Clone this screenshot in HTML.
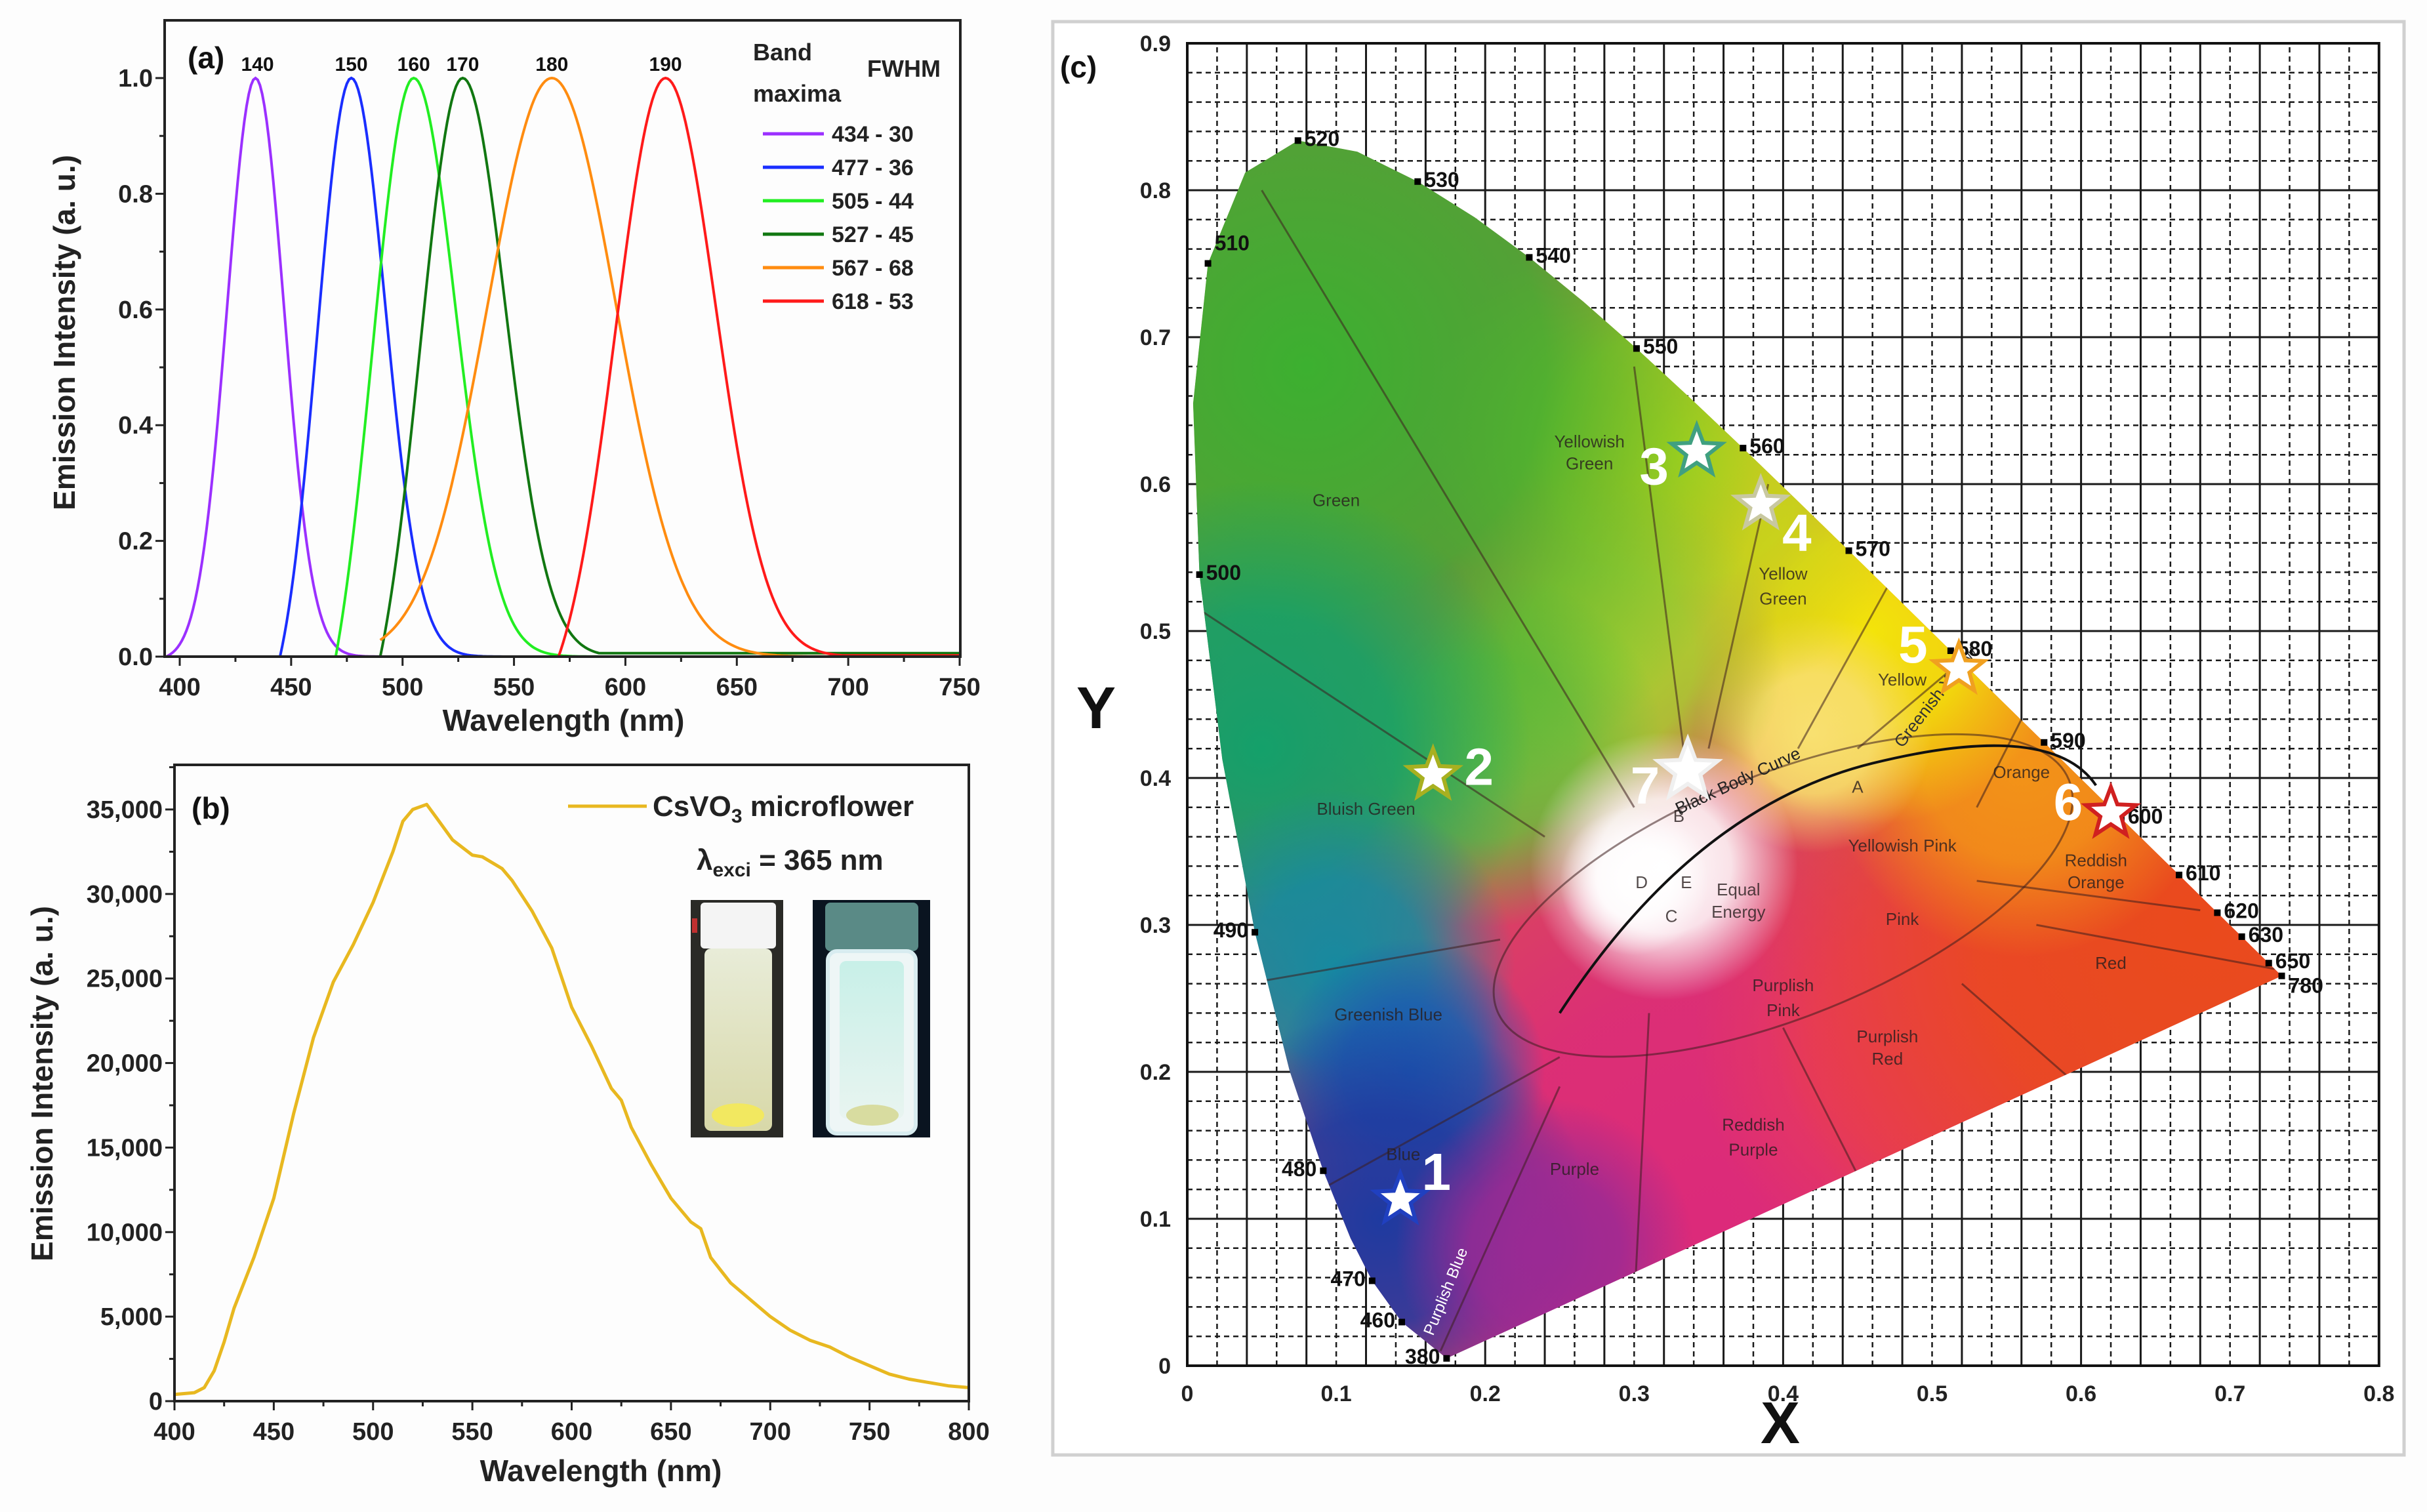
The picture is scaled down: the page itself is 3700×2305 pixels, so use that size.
<!DOCTYPE html>
<html><head><meta charset="utf-8">
<style>
html,body{margin:0;padding:0;background:#fdfdfd;overflow:hidden;width:3700px;height:2305px;}
svg{display:block;font-family:"Liberation Sans",Arial,sans-serif;}
</style></head>
<body>
<svg id="fig" width="3700" height="2305" viewBox="0 0 3700 2305" xmlns="http://www.w3.org/2000/svg">
<defs>
<clipPath id="clipA"><rect x="251" y="31" width="1213" height="970"/></clipPath>
<clipPath id="clipB"><rect x="266" y="1166" width="1211" height="970"/></clipPath>
<clipPath id="locusClip"><path id="locusClipPath" d=""/></clipPath>
<linearGradient id="vial1g" x1="0" y1="0" x2="0" y2="1"><stop offset="0" stop-color="#e8ecd8"/><stop offset="1" stop-color="#d8d8a8"/></linearGradient>
<linearGradient id="vial2g" x1="0" y1="0" x2="0" y2="1"><stop offset="0" stop-color="#c8f0e8"/><stop offset="1" stop-color="#e8f4f0"/></linearGradient>
</defs>
<rect x="0" y="0" width="3700" height="2305" fill="#fdfdfd"/>
<g id="panelA"></g>
<g id="panelB"></g>
<g id="panelC"></g>
</svg>
<script>
// ---------- Panel (a) data ----------
const aPeaks = [434, 477, 505, 527, 567, 618];
const aFwhm = [30, 36, 44, 45, 68, 53];
const aStart = [394, 445, 470, 490, 490, 570];
const aZeroStart = [1, 1, 1, 1, 0, 1];
const aTail = [0, 0, 0, 0.006, 0, 0.002];
const aColors = ["#9b30ff", "#1a2eff", "#22ee22", "#117711", "#ff8c10", "#ff1a1a"];
const aPeakLabels = ["140", "150", "160", "170", "180", "190"];
const aXTicks = [400, 450, 500, 550, 600, 650, 700, 750];
const aYTicks = [0.0, 0.2, 0.4, 0.6, 0.8, 1.0];
// ---------- Panel (b) data ----------
const bWave = [400,410,415,420,425,430,440,450,460,470,480,490,500,510,515,520,527,532,540,550,555,565,570,580,590,600,610,620,625,630,640,650,660,665,670,680,690,700,710,720,730,740,750,760,770,780,790,800];
const bInt = [400,500,800,1800,3500,5500,8500,12000,17000,21500,24800,27000,29500,32500,34300,35000,35300,34500,33200,32300,32200,31500,30800,29000,26800,23300,21000,18500,17800,16200,14000,12000,10600,10200,8500,7000,6000,5000,4200,3600,3200,2600,2100,1600,1300,1100,900,800];
const bXTicks = [400,450,500,550,600,650,700,750,800];
const bYTicks = [0,5000,10000,15000,20000,25000,30000,35000];
// ---------- Panel (c) data ----------
const locusNm = [380,460,470,475,480,485,490,495,500,505,510,515,520,525,530,535,540,545,550,555,560,565,570,575,580,585,590,595,600,610,620,630,650,700];
const locusX = [0.1741,0.1440,0.1241,0.1096,0.0913,0.0687,0.0454,0.0235,0.0082,0.0039,0.0139,0.0389,0.0743,0.1142,0.1547,0.1929,0.2296,0.2658,0.3016,0.3373,0.3731,0.4087,0.4441,0.4788,0.5125,0.5448,0.5752,0.6029,0.6270,0.6658,0.6915,0.7079,0.7260,0.7347];
const locusY = [0.0050,0.0297,0.0578,0.0868,0.1327,0.2007,0.2950,0.4127,0.5384,0.6548,0.7502,0.8120,0.8338,0.8262,0.8059,0.7816,0.7543,0.7243,0.6923,0.6589,0.6245,0.5896,0.5547,0.5202,0.4866,0.4544,0.4242,0.3965,0.3725,0.3340,0.3083,0.2920,0.2740,0.2653];
const labelNm = [380,460,470,480,490,500,510,520,530,540,550,560,570,580,590,600,610,620,630,650,780];
const starNames = ["1","2","3","4","5","6","7"];
const starX = [0.143,0.165,0.342,0.385,0.518,0.620,0.336];
const starY = [0.113,0.402,0.622,0.586,0.474,0.376,0.405];
const cXTicks = [0,0.1,0.2,0.3,0.4,0.5,0.6,0.7,0.8];
const cYTicks = [0,0.1,0.2,0.3,0.4,0.5,0.6,0.7,0.8,0.9];

const NS = "http://www.w3.org/2000/svg";
function mk(parent, tag, attrs, text) {
  const e = document.createElementNS(NS, tag);
  for (const k in attrs) e.setAttribute(k, attrs[k]);
  if (text !== undefined) e.textContent = text;
  parent.appendChild(e);
  return e;
}

// ================= PANEL A =================
(function(){
  const g = document.getElementById('panelA');
  const X0 = 251, X1 = 1464, Y0 = 1001, Y1 = 31;
  const xs = w => 274 + (w - 400) * (1463 - 274) / 350;
  const ys = v => 1001 - v * 882;
  const cg = mk(g, 'g', {'clip-path': 'url(#clipA)'});
  for (let i = 0; i < aPeaks.length; i++) {
    const s = aFwhm[i] / 2.3548;
    const gauss = w => Math.exp(-Math.pow(w - aPeaks[i], 2) / (2 * s * s));
    const v0 = aZeroStart[i] ? gauss(aStart[i]) : 0;
    let d = '';
    for (let w = aStart[i]; w <= 750; w += 1) {
      let v = gauss(w);
      if (w <= aPeaks[i]) v = (v - v0) / (1 - v0);
      else v = Math.max(v, aTail[i]);
      d += (d ? 'L' : 'M') + xs(w).toFixed(1) + ',' + ys(v).toFixed(1);
    }
    const p = mk(cg, 'path', {d: d, fill: 'none', stroke: aColors[i], 'stroke-width': 4});
    
    
    const t = mk(g, 'text', {x: xs(aPeaks[i]) + (i === 0 ? 3 : 0), y: 108, 'font-size': 30, 'font-weight': 'bold', 'text-anchor': 'middle', fill: '#111'}, aPeakLabels[i]);
    
    
  }
  const fr = mk(g, 'rect', {x: X0, y: Y1, width: X1 - X0, height: Y0 - Y1, fill: 'none', stroke: '#222', 'stroke-width': 4});
  
  
  for (let w = 400; w <= 750; w += 25) {
    mk(g, 'line', {x1: xs(w), x2: xs(w), y1: Y0, y2: Y0 + (w % 50 === 0 ? 14 : 8), stroke: '#222', 'stroke-width': 3});
  }
  aXTicks.forEach(w => {
    const t = mk(g, 'text', {x: xs(w), y: 1060, 'font-size': 38, 'font-weight': 'bold', 'text-anchor': 'middle', fill: '#222'}, String(w));
    
    
  });
  for (let v = 0; v <= 1.05; v += 0.1) {
    const major = Math.round(v * 10) % 2 === 0;
    mk(g, 'line', {x1: X0, x2: X0 - (major ? 14 : 8), y1: ys(v), y2: ys(v), stroke: '#222', 'stroke-width': 3});
  }
  aYTicks.forEach(v => {
    const t = mk(g, 'text', {x: 233, y: ys(v) + 13, 'font-size': 38, 'font-weight': 'bold', 'text-anchor': 'end', fill: '#222'}, v.toFixed(1));
    
    
  });
  let t = mk(g, 'text', {x: 859, y: 1114, 'font-size': 46, 'font-weight': 'bold', 'text-anchor': 'middle', fill: '#222'}, 'Wavelength (nm)');
   
  t = mk(g, 'text', {x: 0, y: 0, 'font-size': 46, 'font-weight': 'bold', 'text-anchor': 'middle', fill: '#222', transform: 'translate(114,507) rotate(-90)'}, 'Emission Intensity (a. u.)');
   
  t = mk(g, 'text', {x: 286, y: 104, 'font-size': 46, 'font-weight': 'bold', fill: '#111'}, '(a)');
   
  const lg = mk(g, 'g', {});
   
  mk(lg, 'text', {x: 1148, y: 92, 'font-size': 36, 'font-weight': 'bold', fill: '#222'}, 'Band');
  mk(lg, 'text', {x: 1148, y: 155, 'font-size': 36, 'font-weight': 'bold', fill: '#222'}, 'maxima');
  mk(lg, 'text', {x: 1322, y: 117, 'font-size': 36, 'font-weight': 'bold', fill: '#222'}, 'FWHM');
  for (let i = 0; i < aPeaks.length; i++) {
    const y = 204 + i * 51;
    const e = mk(lg, 'g', {});
    
    
    mk(e, 'line', {x1: 1163, x2: 1256, y1: y, y2: y, stroke: aColors[i], 'stroke-width': 5});
    mk(e, 'text', {x: 1268, y: y + 12, 'font-size': 34, 'font-weight': 'bold', fill: '#222', 'xml:space': 'preserve'}, aPeaks[i] + '  -  ' + aFwhm[i]);
  }
})();

// ================= PANEL B =================
(function(){
  const g = document.getElementById('panelB');
  const X0 = 266, X1 = 1477, Y0 = 2136, Y1 = 1166;
  const xs = w => X0 + (w - 400) * (X1 - X0) / 400;
  const ys = v => Y0 - v * (Y0 - 1234) / 35000;
  let d = '';
  for (let i = 0; i < bWave.length; i++) d += (i ? 'L' : 'M') + xs(bWave[i]).toFixed(1) + ',' + ys(bInt[i]).toFixed(1);
  const p = mk(g, 'path', {d: d, fill: 'none', stroke: '#e8b820', 'stroke-width': 5, 'stroke-linejoin': 'round', 'clip-path': 'url(#clipB)'});
  
  
  const fr = mk(g, 'rect', {x: X0, y: Y1, width: X1 - X0, height: Y0 - Y1, fill: 'none', stroke: '#222', 'stroke-width': 4});
   
  for (let w = 400; w <= 800; w += 25) mk(g, 'line', {x1: xs(w), x2: xs(w), y1: Y0, y2: Y0 + (w % 50 === 0 ? 14 : 8), stroke: '#222', 'stroke-width': 3});
  for (let v = 0; v <= 37500; v += 2500) mk(g, 'line', {x1: X0, x2: X0 - (v % 5000 === 0 ? 14 : 8), y1: ys(v), y2: ys(v), stroke: '#222', 'stroke-width': 3});
  bXTicks.forEach(w => {
    const t = mk(g, 'text', {x: xs(w), y: 2195, 'font-size': 38, 'font-weight': 'bold', 'text-anchor': 'middle', fill: '#222'}, String(w));
     
  });
  bYTicks.forEach(v => {
    const t = mk(g, 'text', {x: 248, y: ys(v) + 13, 'font-size': 38, 'font-weight': 'bold', 'text-anchor': 'end', fill: '#222'}, v.toLocaleString('en-US'));
     
  });
  let t = mk(g, 'text', {x: 916, y: 2258, 'font-size': 46, 'font-weight': 'bold', 'text-anchor': 'middle', fill: '#222'}, 'Wavelength (nm)');
   
  t = mk(g, 'text', {x: 0, y: 0, 'font-size': 46, 'font-weight': 'bold', 'text-anchor': 'middle', fill: '#222', transform: 'translate(80,1652) rotate(-90)'}, 'Emission Intensity (a. u.)');
   
  t = mk(g, 'text', {x: 292, y: 1248, 'font-size': 46, 'font-weight': 'bold', fill: '#111'}, '(b)');
   
  const lg = mk(g, 'g', {});
   
  mk(lg, 'line', {x1: 866, x2: 986, y1: 1229, y2: 1229, stroke: '#e8b820', 'stroke-width': 5});
  const tt = mk(lg, 'text', {x: 995, y: 1244, 'font-size': 44, 'font-weight': 'bold', fill: '#222'});
  tt.innerHTML = 'CsVO<tspan font-size="30" dy="10">3</tspan><tspan dy="-10"> microflower</tspan>';
  const t2 = mk(g, 'text', {x: 1062, y: 1326, 'font-size': 44, 'font-weight': 'bold', fill: '#222'});
  t2.innerHTML = 'λ<tspan font-size="30" dy="10">exci</tspan><tspan dy="-10"> = 365 nm</tspan>';
   
  const ph = mk(g, 'g', {});
   
  mk(ph, 'rect', {x: 1053, y: 1372, width: 141, height: 362, fill: '#2a2a26'});
  mk(ph, 'rect', {x: 1068, y: 1376, width: 115, height: 70, rx: 6, fill: '#f4f4f4'});
  mk(ph, 'rect', {x: 1074, y: 1446, width: 103, height: 278, rx: 10, fill: 'url(#vial1g)'});
  mk(ph, 'ellipse', {cx: 1125, cy: 1700, rx: 40, ry: 18, fill: '#f2e860'});
  mk(ph, 'rect', {x: 1055, y: 1400, width: 8, height: 22, fill: '#c03030'});
  mk(ph, 'rect', {x: 1239, y: 1372, width: 179, height: 362, fill: '#0a1420'});
  mk(ph, 'rect', {x: 1258, y: 1376, width: 142, height: 74, rx: 8, fill: '#5a8a86'});
  mk(ph, 'rect', {x: 1262, y: 1450, width: 134, height: 278, rx: 14, fill: '#eef6f6', stroke: '#d8ecf0', 'stroke-width': 6});
  mk(ph, 'rect', {x: 1280, y: 1465, width: 98, height: 240, rx: 10, fill: 'url(#vial2g)'});
  mk(ph, 'ellipse', {cx: 1330, cy: 1700, rx: 40, ry: 16, fill: '#d8dca0'});
})();

// ================= PANEL C =================
(function(){
  const g = document.getElementById('panelC');
  const cx = x => 1810 + x * 2271;
  const cy = y => 2082 - y * 2240;
  const outer = mk(g, 'rect', {x: 1605, y: 33, width: 2060, height: 2185, fill: '#ffffff', stroke: '#d0d0d0', 'stroke-width': 5});
   
  const gg = mk(g, 'g', {});
   
  for (let i = 0; i <= 40; i++) {
    const x = cx(i * 0.02), solid = (i % 2 === 0);
    mk(gg, 'line', {x1: x, x2: x, y1: cy(0), y2: cy(0.9), stroke: '#1a1a1a', 'stroke-width': solid ? 3 : 2.5, 'stroke-dasharray': solid ? 'none' : '8,6'});
  }
  for (let i = 0; i <= 45; i++) {
    const y = cy(i * 0.02), solid = (i % 5 === 0);
    mk(gg, 'line', {x1: cx(0), x2: cx(0.8), y1: y, y2: y, stroke: '#1a1a1a', 'stroke-width': solid ? 3 : 2.5, 'stroke-dasharray': solid ? 'none' : '8,6'});
  }
  mk(gg, 'rect', {x: cx(0), y: cy(0.9), width: cx(0.8) - cx(0), height: cy(0) - cy(0.9), fill: 'none', stroke: '#111', 'stroke-width': 4});
  let d = '';
  for (let i = 0; i < locusX.length; i++) d += (i ? 'L' : 'M') + cx(locusX[i]).toFixed(1) + ',' + cy(locusY[i]).toFixed(1);
  d += 'Z';
  document.getElementById('locusClipPath').setAttribute('d', d);
  const defs = document.querySelector('defs');
  const blobs = [
    [0.35,0.10,0.30,'#dc2a7a'],[0.50,0.22,0.16,'#e83a5a'],[0.68,0.30,0.30,'#ea4a1c'],
    [0.56,0.41,0.13,'#f39418'],[0.46,0.50,0.13,'#f3e40a'],[0.42,0.43,0.08,'#f8e070'],
    [0.33,0.62,0.17,'#c4dc18'],[0.28,0.48,0.12,'#a8d030'],[0.20,0.42,0.12,'#6cbc3c'],
    [0.08,0.68,0.32,'#3cb030'],[0.05,0.42,0.18,'#14a06a'],[0.10,0.27,0.12,'#168aa0'],
    [0.15,0.20,0.09,'#1a5cb0'],[0.13,0.10,0.14,'#1e3aa0'],[0.24,0.08,0.10,'#9a2a94'],
    [0.32,0.34,0.09,'#ffffff'],[0.30,0.33,0.05,'#ffffff']
  ];
  const fill = mk(g, 'g', {'clip-path': 'url(#locusClip)'});
   
  mk(fill, 'path', {d: d, fill: '#d84a5a'});
  blobs.forEach((b, i) => {
    const rg = mk(defs, 'radialGradient', {id: 'rg' + i});
    mk(rg, 'stop', {offset: '0', 'stop-color': b[3], 'stop-opacity': 1});
    mk(rg, 'stop', {offset: '0.5', 'stop-color': b[3], 'stop-opacity': 0.85});
    mk(rg, 'stop', {offset: '1', 'stop-color': b[3], 'stop-opacity': 0});
    mk(fill, 'circle', {cx: cx(b[0]), cy: cy(b[1]), r: b[2] * 2271, fill: 'url(#rg' + i + ')'});
  });
  const rb = mk(fill, 'g', {fill: 'none', stroke: 'rgba(60,30,30,0.55)', 'stroke-width': 3});
  mk(rb, 'ellipse', {cx: cx(0.40), cy: cy(0.32), rx: 470, ry: 185, transform: 'rotate(-22 ' + cx(0.40) + ' ' + cy(0.32) + ')'});
  const lines = [[0.05,0.80,0.30,0.38],[0.30,0.68,0.335,0.405],[0.39,0.60,0.35,0.42],[0.0,0.52,0.24,0.36],[0.04,0.26,0.21,0.29],
    [0.09,0.12,0.25,0.21],[0.17,0.01,0.25,0.19],[0.30,0.04,0.31,0.24],[0.45,0.13,0.40,0.23],[0.61,0.18,0.52,0.26],
    [0.47,0.53,0.41,0.42],[0.52,0.48,0.45,0.42],[0.56,0.44,0.53,0.38],[0.68,0.31,0.53,0.33],[0.73,0.27,0.57,0.30]];
  lines.forEach(l => mk(rb, 'line', {x1: cx(l[0]), y1: cy(l[1]), x2: cx(l[2]), y2: cy(l[3])}));
  const bb = mk(g, 'path', {d: 'M' + cx(0.25) + ',' + cy(0.24) + ' Q' + cx(0.34) + ',' + cy(0.38) + ' ' + cx(0.46) + ',' + cy(0.41) + ' T' + cx(0.61) + ',' + cy(0.395), fill: 'none', stroke: '#111', 'stroke-width': 4});
   
  const regionLabels = [['Green',0.10,0.585],['Yellowish',0.27,0.625],['Green',0.27,0.61],['Yellow',0.40,0.535],['Green',0.40,0.518],
    ['Bluish Green',0.12,0.375],['Greenish Blue',0.135,0.235],['Blue',0.145,0.14],['Purple',0.26,0.13],['Reddish',0.38,0.16],['Purple',0.38,0.143],
    ['Purplish',0.47,0.22],['Red',0.47,0.205],['Purplish',0.40,0.255],['Pink',0.40,0.238],['Pink',0.48,0.30],['Red',0.62,0.27],
    ['Yellowish Pink',0.48,0.35],['Orange',0.56,0.40],['Reddish',0.61,0.34],['Orange',0.61,0.325],['Yellow',0.48,0.463],
    ['Equal',0.37,0.32],['Energy',0.37,0.305],['A',0.45,0.39],['B',0.33,0.37],['C',0.325,0.302],['D',0.305,0.325],['E',0.335,0.325]];
  regionLabels.forEach(r => {
    const t = mk(g, 'text', {x: cx(r[1]), y: cy(r[2]), 'font-size': 26, fill: 'rgba(40,30,30,0.8)', 'text-anchor': 'middle'}, r[0]);
     
  });
  let t = mk(g, 'text', {x: 0, y: 0, 'font-size': 26, fill: '#222', transform: 'translate(' + cx(0.33) + ',' + cy(0.375) + ') rotate(-25)'}, 'Black Body Curve');
   
  t = mk(g, 'text', {x: 0, y: 0, 'font-size': 26, fill: '#333', transform: 'translate(' + cx(0.48) + ',' + cy(0.42) + ') rotate(-52)'}, 'Greenish Yellow');
   
  t = mk(g, 'text', {x: 0, y: 0, 'font-size': 24, fill: '#fff', transform: 'translate(' + cx(0.165) + ',' + cy(0.02) + ') rotate(-68)'}, 'Purplish Blue');
   
  labelNm.forEach(nm => {
    let i = locusNm.indexOf(nm === 780 ? 700 : nm);
    const x = cx(locusX[i]), y = cy(locusY[i]);
    mk(g, 'rect', {x: x - 5, y: y - 5, width: 10, height: 10, fill: '#000'});
    const left = nm <= 490;
    const t = mk(g, 'text', {x: left ? x - 10 : x + 10, y: y + (nm === 510 ? -20 : 8) + (nm === 780 ? 18 : 0), 'font-size': 32, 'font-weight': 'bold', fill: '#111', 'text-anchor': left ? 'end' : 'start'}, String(nm));
    
    
  });
  cXTicks.forEach(v => {
    const t = mk(g, 'text', {x: cx(v), y: 2136, 'font-size': 34, 'font-weight': 'bold', 'text-anchor': 'middle', fill: '#222'}, v === 0 ? '0' : v.toFixed(1));
     
  });
  cYTicks.forEach(v => {
    const t = mk(g, 'text', {x: 1785, y: cy(v) + 12, 'font-size': 34, 'font-weight': 'bold', 'text-anchor': 'end', fill: '#222'}, v === 0 ? '0' : v.toFixed(1));
     
  });
  t = mk(g, 'text', {x: 1671, y: 1110, 'font-size': 90, 'font-weight': 'bold', 'text-anchor': 'middle', fill: '#111'}, 'Y');
   
  t = mk(g, 'text', {x: 2714, y: 2200, 'font-size': 90, 'font-weight': 'bold', 'text-anchor': 'middle', fill: '#111'}, 'X');
   
  t = mk(g, 'text', {x: 1616, y: 118, 'font-size': 46, 'font-weight': 'bold', fill: '#111'}, '(c)');
   
  const strokeCols = ['#2040c0', '#a8b020', '#40a080', '#c8c8a0', '#f0a020', '#d02020', '#f0f0f0'];
  const numDx = [55, 70, -65, 55, -70, -65, -65];
  const numDy = [-15, 15, 50, 70, -10, 10, 50];
  function starPts(x, y, R) {
    let s = '';
    for (let k = 0; k < 10; k++) {
      const r = k % 2 ? R * 0.42 : R, a = -Math.PI / 2 + k * Math.PI / 5;
      s += (x + r * Math.cos(a)).toFixed(1) + ',' + (y + r * Math.sin(a)).toFixed(1) + ' ';
    }
    return s;
  }
  for (let i = 0; i < starNames.length; i++) {
    const x = cx(starX[i]), y = cy(starY[i]);
    const sg = mk(g, 'g', {});
    
    
    mk(sg, 'polygon', {points: starPts(x, y, i === 6 ? 48 : 40), fill: '#ffffff', stroke: strokeCols[i], 'stroke-width': 6});
    mk(sg, 'text', {x: x + numDx[i], y: y + numDy[i], 'font-size': 80, 'font-weight': 'bold', 'text-anchor': 'middle', fill: '#ffffff'}, starNames[i]);
  }
})();
</script>
</body></html>
